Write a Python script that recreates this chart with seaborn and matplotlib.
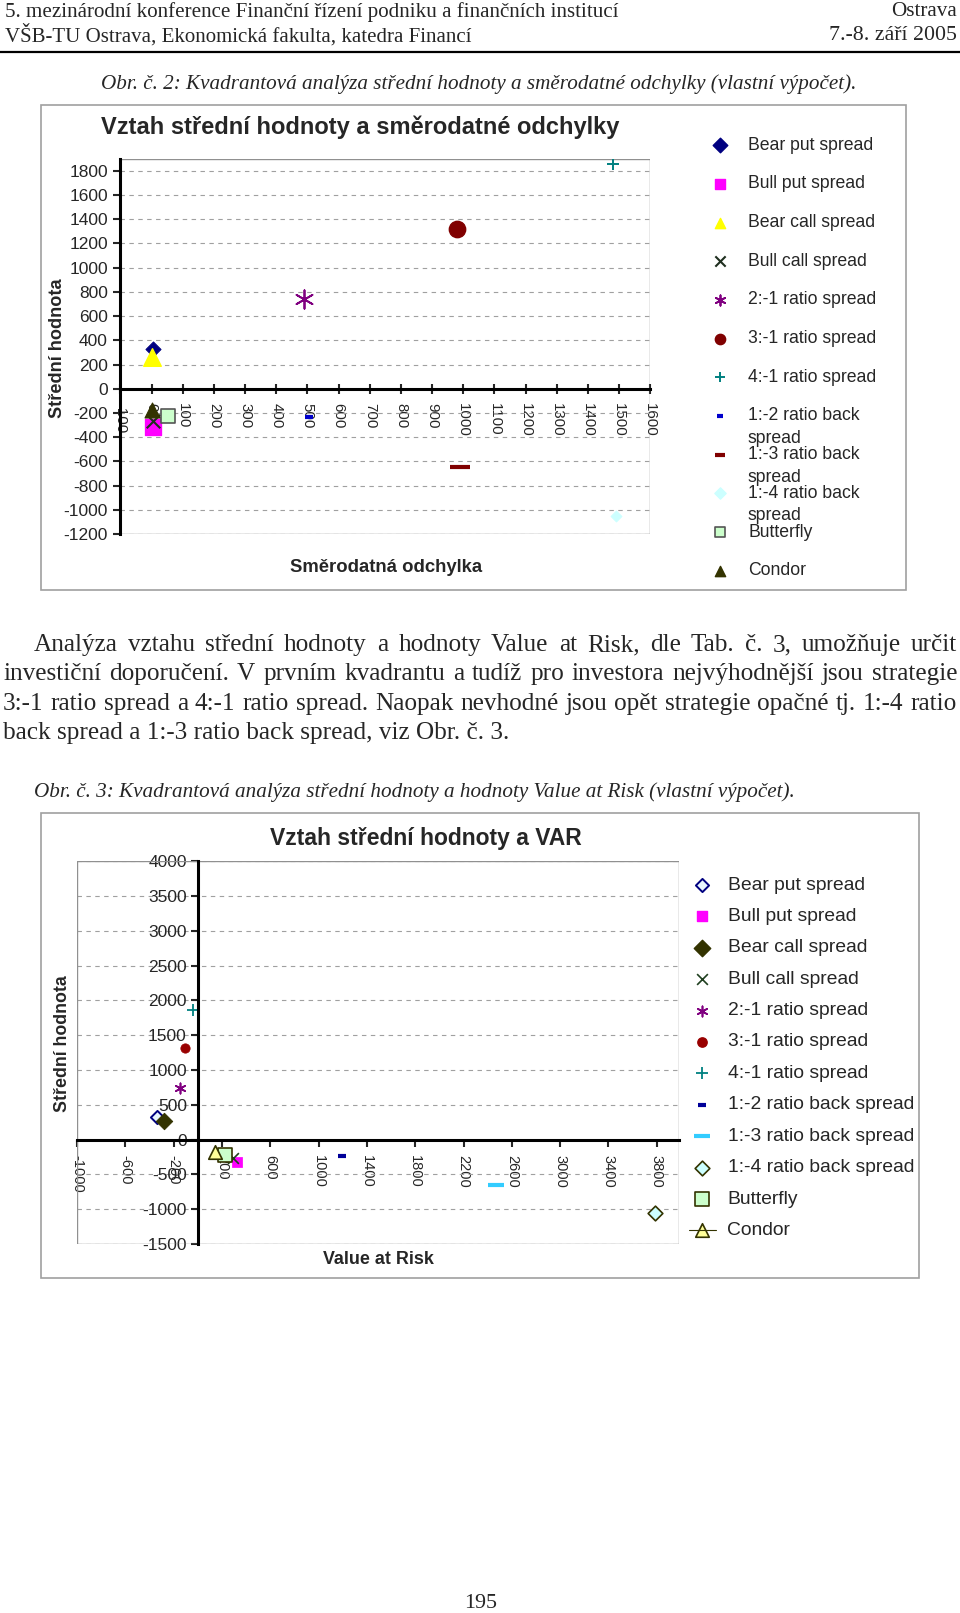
import matplotlib
matplotlib.use("Agg")
import matplotlib.pyplot as plt
from matplotlib.patches import Rectangle
import pandas as pd
import seaborn as sns

# values
strategies = ["Bear put spread", "Bull put spread", "Bear call spread", "Bull call spread",
              "2:-1 ratio spread", "3:-1 ratio spread", "4:-1 ratio spread",
              "1:-2 ratio back spread", "1:-3 ratio back spread", "1:-4 ratio back spread",
              "Butterfly", "Condor"]
stredni_hodnota = [330, -320, 262, -270, 740, 1320, 1860, -235, -645, -1050, -228, -175]
smerodatna_odchylka = [5, 5, 0, 5, 490, 980, 1480, 505, 990, 1490, 52, 0]
value_at_risk = [-340, 320, -280, 290, -150, -105, -45, 1190, 2465, 3785, 225, 140]

x1_ticks = list(range(-100, 1601, 100))
y1_ticks = list(range(-1200, 1801, 200))
x2_ticks = list(range(-1000, 3801, 400))
y2_ticks = list(range(-1500, 4001, 500))

header = ["5. mezinárodní konference Finanční řízení podniku a finančních institucí",
          "VŠB-TU Ostrava, Ekonomická fakulta, katedra Financí"]
header_right = ["Ostrava", "7.-8. září 2005"]
caption1 = "Obr. č. 2: Kvadrantová analýza střední hodnoty a směrodatné odchylky (vlastní výpočet)."
caption2 = "Obr. č. 3: Kvadrantová analýza střední hodnoty a hodnoty Value at Risk (vlastní výpočet)."
paragraph = ["Analýza vztahu střední hodnoty a hodnoty Value at Risk, dle Tab. č. 3, umožňuje určit",
             "investiční doporučení. V prvním kvadrantu a tudíž pro investora nejvýhodnější jsou strategie",
             "3:-1 ratio spread a 4:-1 ratio spread. Naopak nevhodné jsou opět strategie opačné tj. 1:-4 ratio",
             "back spread a 1:-3 ratio back spread, viz Obr. č. 3."]
title1 = "Vztah střední hodnoty a směrodatné odchylky"
title2 = "Vztah střední hodnoty a VAR"

df = pd.DataFrame({"strategie": strategies,
                   "stredni_hodnota": stredni_hodnota,
                   "smerodatna_odchylka": smerodatna_odchylka,
                   "var": value_at_risk})

styl1 = {
    "Bear put spread": dict(marker="D", s=60, color="#000080", edgecolor="#000080"),
    "Bull put spread": dict(marker="s", s=140, color="#FF00FF", edgecolor="#FF00FF"),
    "Bear call spread": dict(marker="^", s=160, color="#FFFF00", edgecolor="#FFFF00"),
    "Bull call spread": dict(marker="x", s=95, color="#1F2F1F", linewidth=1.5),
    "2:-1 ratio spread": dict(marker=(6, 2, 0), s=175, color="#800080", linewidth=1.3),
    "3:-1 ratio spread": dict(marker="o", s=140, color="#800000", edgecolor="#800000"),
    "4:-1 ratio spread": dict(marker="+", s=80, color="#008080", linewidth=1.4),
    "1:-2 ratio back spread": dict(marker="_", s=27, color="#0000CC", linewidth=3),
    "1:-3 ratio back spread": dict(marker="_", s=190, color="#800000", linewidth=3),
    "1:-4 ratio back spread": dict(marker="D", s=33, color="#CCFFFF", edgecolor="#CCFFFF"),
    "Butterfly": dict(marker="s", s=100, color="#CCFFCC", edgecolor="#555555", linewidth=1.2),
    "Condor": dict(marker="^", s=115, color="#333300", edgecolor="#333300"),
}
styl2 = {
    "Bear put spread": dict(marker="D", s=45, color="#E8F6FF", edgecolor="#000080", linewidth=1.4),
    "Bull put spread": dict(marker="s", s=45, color="#FF00FF", edgecolor="#FF00FF"),
    "Bear call spread": dict(marker="D", s=70, color="#333300", edgecolor="#333300"),
    "Bull call spread": dict(marker="x", s=60, color="#1F3F1F", linewidth=1.2),
    "2:-1 ratio spread": dict(marker=(6, 2, 0), s=55, color="#800080", linewidth=1.2),
    "3:-1 ratio spread": dict(marker="o", s=45, color="#990000", edgecolor="#990000"),
    "4:-1 ratio spread": dict(marker="+", s=70, color="#008080", linewidth=1.3),
    "1:-2 ratio back spread": dict(marker="_", s=35, color="#000099", linewidth=3),
    "1:-3 ratio back spread": dict(marker="_", s=140, color="#33CCFF", linewidth=3),
    "1:-4 ratio back spread": dict(marker="D", s=56, color="#CCFFFF", edgecolor="#333300", linewidth=1.2),
    "Butterfly": dict(marker="s", s=100, color="#CCFFCC", edgecolor="#333300", linewidth=1.2),
    "Condor": dict(marker="^", s=95, color="#FFFF99", edgecolor="#333300", linewidth=1.2),
}

sns.set_style("ticks")
plt.rcParams["font.family"] = ["Liberation Sans", "DejaVu Sans"]
plt.rcParams["axes.unicode_minus"] = False

W, H = 960, 1613
fig = plt.figure(figsize=(W / 100, H / 100), dpi=100)


def px_axes(left, top, right, bottom):
    return fig.add_axes([left / W, 1 - bottom / H, (right - left) / W, (bottom - top) / H])


def style_axes(ax):
    ax.set_axisbelow(True)
    ax.yaxis.grid(True, linestyle=(0, (4, 4)), color="#a0a0a0", linewidth=0.8)
    ax.set_xlabel("")
    ax.set_ylabel("")
    for side in ["top", "right"]:
        ax.spines[side].set_visible(False)
    for side in ["left", "bottom"]:
        ax.spines[side].set_color("black")
        ax.spines[side].set_linewidth(2.2)
    ax.add_patch(Rectangle((0, 0), 1, 1, transform=ax.transAxes, fill=False,
                           edgecolor="#909090", linewidth=1, zorder=0.6))


# chart 1: mean vs standard deviation
ax1 = px_axes(120.4, 158.7, 650.3, 534)
for name in strategies:
    sns.scatterplot(data=df[df["strategie"] == name], x="smerodatna_odchylka", y="stredni_hodnota",
                    ax=ax1, legend=False, **styl1[name])
ax1.set_xlim(-100, 1600)
ax1.set_ylim(-1200, 1900)
ax1.set_xticks(x1_ticks)
ax1.set_yticks(y1_ticks)
style_axes(ax1)
ax1.spines["bottom"].set_position(("data", 0))
ax1.tick_params(axis="y", direction="out", length=5, width=1.5, labelsize=12.5, pad=4)
ax1.tick_params(axis="x", direction="inout", length=7, width=1.5, labelsize=10.8, pad=7,
                labelrotation=270)

# chart 2: mean vs value at risk
ax2 = px_axes(77.2, 861.3, 678.5, 1244)
for name in strategies:
    sns.scatterplot(data=df[df["strategie"] == name], x="var", y="stredni_hodnota",
                    ax=ax2, legend=False, **styl2[name])
ax2.set_xlim(-1000, 3980)
ax2.set_ylim(-1500, 4000)
ax2.set_xticks(x2_ticks)
ax2.set_yticks(y2_ticks)
style_axes(ax2)
ax2.spines["left"].set_position(("data", 0))
ax2.spines["bottom"].set_position(("data", 0))
ax2.tick_params(axis="y", direction="out", length=5, width=1.5, labelsize=12.5, pad=3)
ax2.tick_params(axis="x", direction="out", length=5, width=1.5, labelsize=10.5, pad=6,
                labelrotation=270)

# page overlay in pixel coordinates
ov = fig.add_axes([0, 0, 1, 1], zorder=5)
ov.set_xlim(0, W)
ov.set_ylim(H, 0)
ov.axis("off")
renderer = fig.canvas.get_renderer()
serif = ["Liberation Serif", "DejaVu Serif"]


def fit(x, y, s, width, ha="left", rotation=0, **kw):
    t = ov.text(x, y, s, ha=ha, va="center", rotation=rotation, fontsize=10, **kw)
    ext = t.get_window_extent(renderer)
    t.set_fontsize(10 * width / (ext.height if rotation else ext.width))
    return t


def justify(words, x0, x1, y, size, **kw):
    arts = [ov.text(0, y, w, ha="left", va="center", fontsize=size, **kw) for w in words]
    widths = [a.get_window_extent(renderer).width for a in arts]
    gap = (x1 - x0 - sum(widths)) / (len(words) - 1)
    x = x0
    for a, w in zip(arts, widths):
        a.set_x(x)
        x += w + gap


fit(5, 12, header[0], 612, family=serif)
fit(957, 12, header_right[0], 66, ha="right", family=serif)
fit(5, 35, header[1], 466, family=serif)
fit(957, 35, header_right[1], 127, ha="right", family=serif)
ov.plot([0, W], [51.5, 51.5], color="black", linewidth=1.6)

fit(101, 84.5, caption1, 755, family=serif, style="italic")
last = fit(3, 733, paragraph[3], 508, family=serif)
psize = last.get_fontsize()
justify(paragraph[0].split(), 34, 957, 645, psize, family=serif)
justify(paragraph[1].split(), 3, 957, 674, psize, family=serif)
justify(paragraph[2].split(), 3, 957, 704, psize, family=serif)
fit(34, 792, caption2, 763, family=serif, style="italic")
fit(480.5, 1603, "195", 33, ha="center", family=serif)

# chart frames and texts
ov.add_patch(Rectangle((41, 105), 864.5, 485, fill=False, edgecolor="#a0a0a0", linewidth=1.2))
ov.add_patch(Rectangle((41, 813), 878, 465, fill=False, edgecolor="#a0a0a0", linewidth=1.2))
fit(360, 127.6, title1, 519, ha="center", weight="bold")
fit(426, 838.6, title2, 312, ha="center", weight="bold")
fit(386, 567, "Směrodatná odchylka", 192, ha="center", weight="bold")
fit(57.6, 348, "Střední hodnota", 139, ha="center", rotation=90, weight="bold")
fit(378.5, 1259.5, "Value at Risk", 110, ha="center", weight="bold")
fit(62.8, 1044, "Střední hodnota", 136, ha="center", rotation=90, weight="bold")

# legend of chart 1 (fixed row pitch, long labels wrap under the next row)
leg1_size = fit(748, 145.1, strategies[0], 125.5).get_fontsize()
for i, name in enumerate(strategies):
    y = 145.1 + 38.7 * i
    st = dict(styl1[name])
    st["s"] = min(st["s"], 55) if st["marker"] != "_" else (20 if "1:-2" in name else 55)
    ov.scatter([720], [y], **st)
    if i == 0:
        continue
    if "back" in name:
        ov.text(748, y, name.replace(" spread", ""), ha="left", va="center", fontsize=leg1_size)
        ov.text(748, y + 22.6, "spread", ha="left", va="center", fontsize=leg1_size)
    else:
        ov.text(748, y, name, ha="left", va="center", fontsize=leg1_size)

# legend of chart 2
leg2_size = fit(727.5, 885, strategies[0], 137).get_fontsize()
for i, name in enumerate(strategies):
    y = 885 + 31.4 * i
    st = dict(styl2[name])
    if name == "Condor":
        ov.plot([689, 716], [y, y], color="#333300", linewidth=0.8)
    ov.scatter([702], [y], **st)
    if i:
        ov.text(727.5, y, name, ha="left", va="center", fontsize=leg2_size)

fig.savefig("out.png", dpi=100)
